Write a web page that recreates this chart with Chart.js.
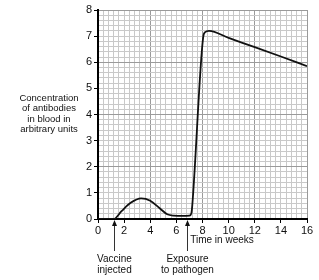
<!DOCTYPE html>
<html>
<head>
<meta charset="utf-8">
<script src="https://cdn.jsdelivr.net/npm/chart.js@4/dist/chart.umd.min.js"></script>
<style>
  html, body { margin: 0; padding: 0; background: #fff; }
  #wrap { width: 319px; height: 280px; position: relative; }
</style>
</head>
<body>
<div id="wrap"><canvas id="antibody-chart"></canvas></div>
<script>
// Antibody concentration after vaccine and pathogen exposure
const weeks = [0, 1.2, 1.8, 2.5, 3.3, 4.0, 4.7, 5.3, 5.8, 6.5, 7.0, 7.15, 7.22, 8.05, 8.2, 8.5, 10, 12, 14, 16];
const concentration = [0, 0, 0.3, 0.62, 0.79, 0.7, 0.42, 0.18, 0.13, 0.12, 0.13, 0.22, 0.54, 6.95, 7.15, 7.2, 6.93, 6.58, 6.22, 5.85];

const yTitleLines = ['Concentration', 'of antibodies', 'in blood in', 'arbitrary units'];
const xTitle = 'Time in weeks';
const markers = [
    { week: 1.22, lines: ['Vaccine', 'injected'] },
    { week: 6.8, lines: ['Exposure', 'to pathogen'] }
];

const FONT = '"Liberation Sans", Arial, sans-serif';
const MINOR = '#c9c9c9';
const MAJOR = '#9a9a9a';

// Draw the side labels and arrows
const labelsPlugin = {
    id: 'labels',
    afterDraw(chart) {
        const ctx = chart.ctx;
        const xs = chart.scales.x;
        const area = chart.chartArea;
        ctx.save();
        ctx.fillStyle = '#111';
        ctx.textAlign = 'center';
        ctx.textBaseline = 'middle';
        ctx.font = '9.5px ' + FONT;
        yTitleLines.forEach((t, i) => ctx.fillText(t, 49, 98 + i * 10.6));

        ctx.font = '10px ' + FONT;
        ctx.fillText(xTitle, 222, 240.5);

        markers.forEach(m => {
            const px = Math.round(xs.getPixelForValue(m.week)) + 0.5;
            ctx.strokeStyle = '#333';
            ctx.lineWidth = 1;
            ctx.beginPath();
            ctx.moveTo(px, 251);
            ctx.lineTo(px, area.bottom + 6);
            ctx.stroke();
            ctx.fillStyle = '#111';
            ctx.beginPath();
            ctx.moveTo(px, area.bottom + 1);
            ctx.lineTo(px - 2.5, area.bottom + 7);
            ctx.lineTo(px + 2.5, area.bottom + 7);
            ctx.closePath();
            ctx.fill();
            ctx.font = '10px ' + FONT;
            m.lines.forEach((t, i) => ctx.fillText(t, px, 259.5 + i * 11));
        });
        ctx.restore();
    }
};

new Chart(document.getElementById('antibody-chart'), {
    type: 'line',
    data: {
        datasets: [{
            data: weeks.map((w, i) => ({ x: w, y: concentration[i] })),
            borderColor: '#111',
            borderWidth: 1.8,
            pointRadius: 0,
            fill: false,
            cubicInterpolationMode: 'monotone'
        }]
    },
    options: {
        responsive: true,
        maintainAspectRatio: false,
        animation: false,
        layout: { padding: { top: 10, right: 12, left: 0, bottom: 0 } },
        plugins: {
            legend: { display: false },
            tooltip: { enabled: false }
        },
        scales: {
            x: {
                type: 'linear',
                min: 0,
                max: 16,
                afterFit(scale) { scale.height = 61; },
                border: { color: '#000', width: 2 },
                grid: {
                    color: c => (c.index % 10 === 0 ? MAJOR : MINOR),
                    lineWidth: 1,
                    tickLength: 4,
                    tickColor: c => (c.index % 5 === 0 ? '#000' : 'rgba(0,0,0,0)')
                },
                ticks: {
                    stepSize: 0.4,
                    autoSkip: false,
                    maxRotation: 0,
                    padding: 1,
                    color: '#111',
                    font: { family: FONT, size: 11 },
                    callback: (v, i) => (i % 5 === 0 ? String(Math.round(v)) : '')
                }
            },
            y: {
                min: 0,
                max: 8,
                afterFit(scale) { scale.width = 98; },
                border: { color: '#000', width: 2 },
                grid: {
                    color: c => (c.index % 10 === 0 ? MAJOR : MINOR),
                    lineWidth: 1,
                    tickLength: 4,
                    tickColor: c => (c.index % 5 === 0 ? '#000' : 'rgba(0,0,0,0)')
                },
                ticks: {
                    stepSize: 0.2,
                    autoSkip: false,
                    padding: 2,
                    color: '#111',
                    font: { family: FONT, size: 11 },
                    callback: (v, i) => (i % 5 === 0 ? String(Math.round(v)) : '')
                }
            }
        }
    },
    plugins: [labelsPlugin]
});
</script>
</body>
</html>
